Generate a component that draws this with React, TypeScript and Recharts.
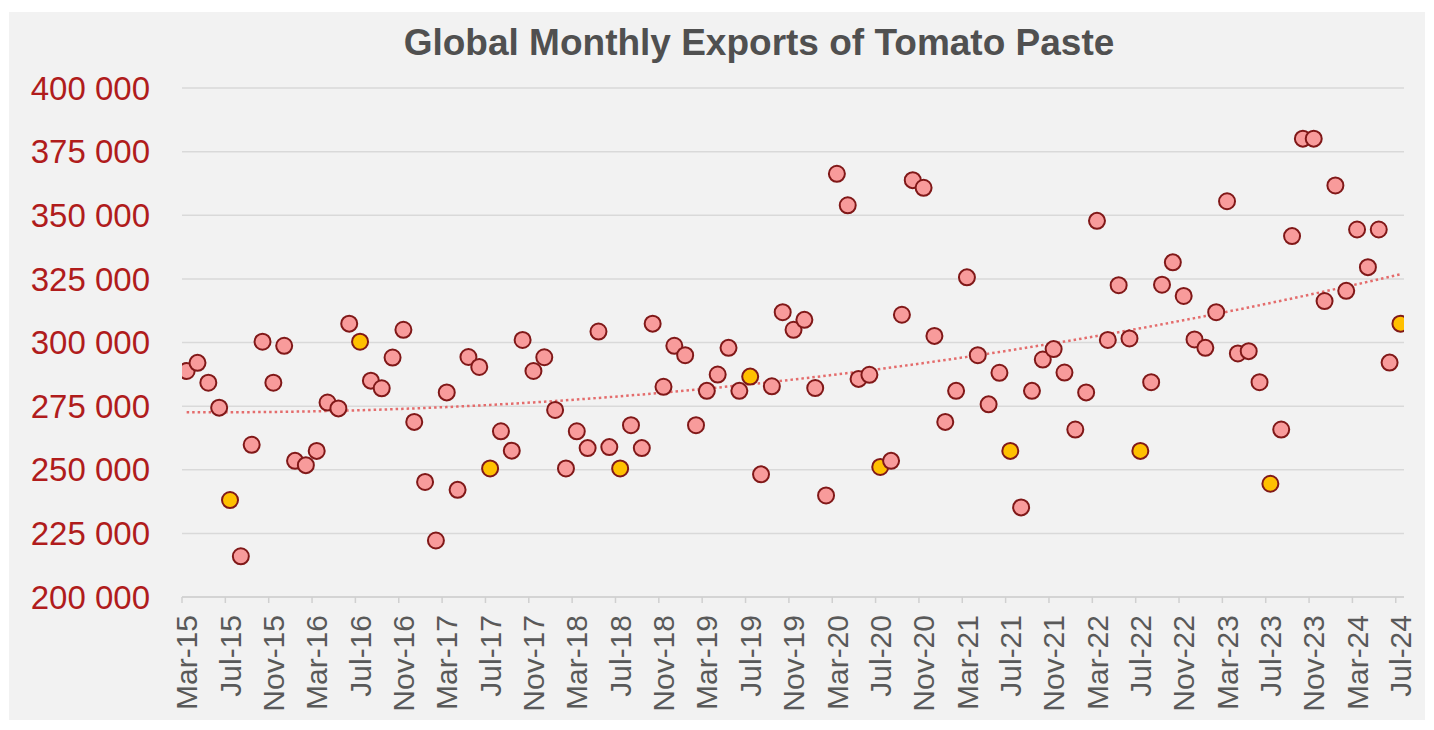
import { ComposedChart, Scatter, Line, XAxis, YAxis, CartesianGrid } from 'recharts';

const MONTH_NAMES = ['Jan', 'Feb', 'Mar', 'Apr', 'May', 'Jun', 'Jul', 'Aug', 'Sep', 'Oct', 'Nov', 'Dec'];
const START_YEAR = 2015;
const START_MONTH = 2; // Mar-15
const HIGHLIGHT_MONTH = 'Jul';

// monthly exports, Mar-15 .. Jul-24 (tonnes)
const EXPORTS = [
  288800, 292000, 284200, 274400, 238100, 216000, 259800, 300300, 284200, 298700, 253500, 251800,
  257400, 276400, 274100, 307400, 300300, 285000, 282000, 294100, 305000, 268800, 245200, 222200,
  280400, 242100, 294300, 290400, 250500, 265100, 257500, 301000, 288800, 294200, 273500, 250500,
  265100, 258500, 304300, 258900, 250500, 267500, 258500, 307400, 282600, 298700, 295000, 267500,
  281000, 287400, 297900, 281000, 286600, 248200, 282800, 311900, 305000, 308900, 282100, 239900,
  366300, 353900, 285700, 287300, 251100, 253500, 310900, 363800, 360800, 302600, 268800, 281000,
  325600, 295000, 275700, 288100, 257400, 235200, 281000, 293300, 297400, 288200, 265800, 280400,
  347800, 301000, 322500, 301600, 257400, 284400, 322700, 331500, 318300, 301200, 297900, 311900,
  355500, 295700, 296600, 284400, 244500, 265800, 341800, 380100, 380100, 316300, 361700, 320300,
  344400, 329600, 344400, 292100, 307400,
];

const Y_TICKS = [200000, 225000, 250000, 275000, 300000, 325000, 350000, 375000, 400000];
const TICK_STEP = 4;

const monthLabel = (i: number) => {
  const m = START_MONTH + i;
  return `${MONTH_NAMES[m % 12]}-${String(START_YEAR + Math.floor(m / 12)).slice(2)}`;
};

const X_TICKS = EXPORTS.map((_, i) => i).filter((i) => i % TICK_STEP === 0);

// values are plotted mid-month, tick marks sit on the start of the month
const MID = 0.43;

const points = EXPORTS.map((v, i) => ({
  x: i + MID,
  y: v,
  hi: monthLabel(i).startsWith(HIGHLIGHT_MONTH),
}));

// 2nd order polynomial trendline (least squares)
function quadFit(xs: number[], ys: number[]) {
  let s0 = 0, s1 = 0, s2 = 0, s3 = 0, s4 = 0, t0 = 0, t1 = 0, t2 = 0;
  xs.forEach((x, k) => {
    const y = ys[k];
    s0 += 1; s1 += x; s2 += x * x; s3 += x ** 3; s4 += x ** 4;
    t0 += y; t1 += x * y; t2 += x * x * y;
  });
  const det = (m: number[][]) =>
    m[0][0] * (m[1][1] * m[2][2] - m[1][2] * m[2][1]) -
    m[0][1] * (m[1][0] * m[2][2] - m[1][2] * m[2][0]) +
    m[0][2] * (m[1][0] * m[2][1] - m[1][1] * m[2][0]);
  const A = [[s0, s1, s2], [s1, s2, s3], [s2, s3, s4]];
  const B = [t0, t1, t2];
  const D = det(A);
  const col = (c: number) => A.map((row, r) => row.map((v, j) => (j === c ? B[r] : v)));
  return [det(col(0)) / D, det(col(1)) / D, det(col(2)) / D];
}

const [c0, c1, c2] = quadFit(points.map((p) => p.x), EXPORTS);
const trend = points.map((p) => ({ x: p.x, trend: c0 + c1 * p.x + c2 * p.x * p.x }));

const fmt = (n: number) => String(n).replace(/\B(?=(\d{3})+(?!\d))/g, ' ');

const FONT = '"Liberation Sans", Arial, sans-serif';

function MonthTick(props: any) {
  const { x, y, payload } = props;
  return (
    <g transform={`translate(${x + 4.5},${y})`}>
      <text
        transform="rotate(-90)"
        textAnchor="end"
        dy="0.36em"
        fill="#595959"
        fontSize={30}
        fontFamily={FONT}
      >
        {monthLabel(payload.value)}
      </text>
    </g>
  );
}

function Dot(props: any) {
  const { cx, cy, payload } = props;
  return (
    <circle
      cx={cx}
      cy={cy}
      r={8}
      fill={payload.hi ? '#ffc000' : '#f89b9b'}
      stroke="#801818"
      strokeWidth={2}
    />
  );
}

export default function App() {
  return (
    <div style={{ position: 'relative', width: 1418, height: 714, background: '#fff' }}>
      <div
        style={{
          position: 'absolute',
          left: 1,
          top: 4,
          width: 1416,
          height: 708,
          background: '#f2f2f2',
        }}
      />
      <div
        style={{
          position: 'absolute',
          left: 351,
          top: 16,
          width: 800,
          textAlign: 'center',
          fontFamily: FONT,
          fontWeight: 'bold',
          fontSize: 37,
          lineHeight: '37px',
          color: '#505050',
        }}
      >
        Global Monthly Exports of Tomato Paste
      </div>
      <div style={{ position: 'absolute', left: 0, top: 0 }}>
        <ComposedChart width={1418} height={714} margin={{ top: 80, right: 22, bottom: 0, left: 0 }}>
          <CartesianGrid vertical={false} stroke="#d9d9d9" strokeWidth={1.5} />
          <XAxis
            type="number"
            dataKey="x"
            domain={[0, 112.76]}
            ticks={X_TICKS}
            interval={0}
            height={125}
            tickSize={6}
            tickMargin={12}
            tick={<MonthTick />}
            stroke="#d0d0d0"
            strokeWidth={1.5}
            allowDataOverflow
          />
          <YAxis
            type="number"
            dataKey="y"
            domain={[200000, 400000]}
            ticks={Y_TICKS}
            interval={0}
            width={174}
            axisLine={false}
            tickLine={false}
            tickSize={0}
            tickMargin={32}
            tickFormatter={fmt}
            tick={{ fill: '#b01c1c', fontSize: 33, fontFamily: FONT }}
          />
          <Scatter data={points} dataKey="y" shape={<Dot />} isAnimationActive={false} />
          <Line
            data={trend}
            dataKey="trend"
            type="linear"
            dot={false}
            activeDot={false}
            stroke="#e46c6c"
            strokeWidth={2.5}
            strokeDasharray="2.5 3"
            isAnimationActive={false}
          />
        </ComposedChart>
      </div>
    </div>
  );
}
